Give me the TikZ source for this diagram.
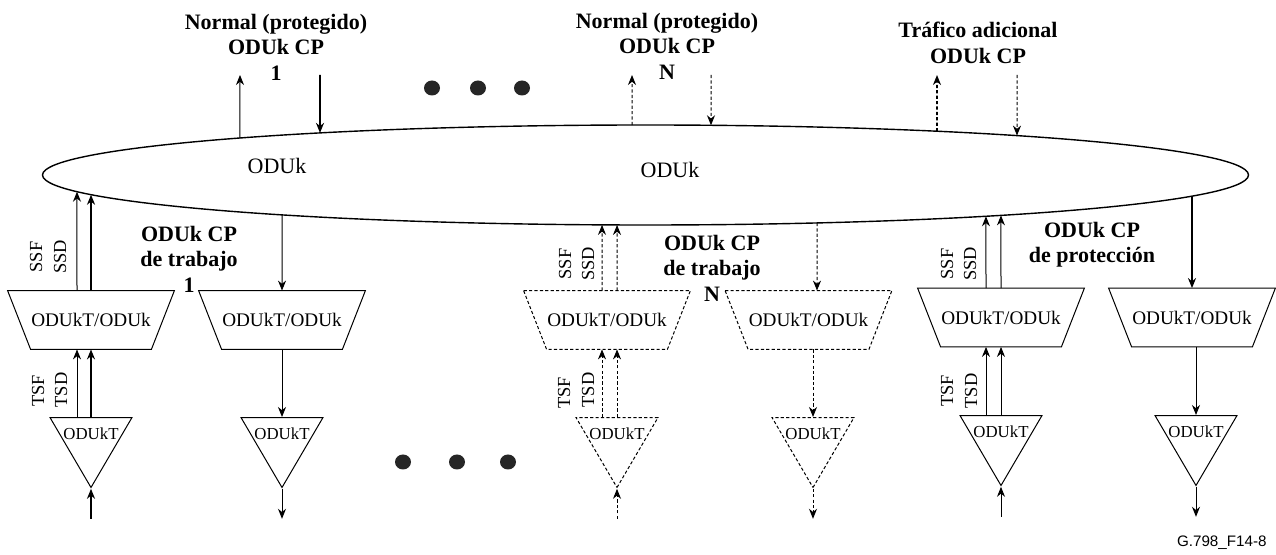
\documentclass[tikz,border=0pt]{standalone}
\usepackage{fontspec}
\setmainfont{Liberation Serif}
\setsansfont{Liberation Sans}
\usetikzlibrary{shapes.geometric,arrows.meta,intersections}

% vertical probe from #1 by #3; first hit on the ring is named #2
\newcommand\ringhit[3]{%
  \path[name path=probe] (#1) -- ++(0,#3);
  \path[name intersections={of=ringp and probe,sort by=probe,by={#2}}];
}

\begin{document}
\begin{tikzpicture}[x=0.5pt,y=-0.5pt,
  every node/.style={inner sep=0pt,font=\fontsize{11}{12.75}\selectfont},
  head/.style={font=\fontsize{11}{12.75}\selectfont\bfseries,align=center},
  sig/.style={-{Stealth[length=5pt,width=4pt,inset=1.6pt]},line width=0.5pt},
  sigb/.style={sig,line width=0.85pt},
  spare/.style={dash pattern=on 1.6pt off 1.1pt},
  adapt/.style={rectangle,minimum width=83pt,minimum height=29pt,
    font=\fontsize{9.6}{11}\selectfont},
  term/.style={draw,line width=0.5pt,isosceles triangle,shape border rotate=-90,
    isosceles triangle stretches=true,minimum width=41pt,minimum height=35pt,
    anchor=north},
  ttl/.style={font=\fontsize{8.4}{9}\selectfont,anchor=north,yshift=-5pt},
  flag/.style={rotate=90,font=\fontsize{9.2}{10}\selectfont}]
  \useasboundingbox (0,0) rectangle (1276,555);

  % ODUk connection function
  \node[draw,ellipse,line width=0.7pt,minimum width=603pt,minimum height=50pt]
    (ring) at (645.5,175) {};
  \path[name path=ringp] (ring.center) ellipse [x radius=603,y radius=50];
  \node (oduka) at (277,166) {ODUk};
  \node (odukb) at (670,170) {ODUk};

  % normal (protected) CPs and extra traffic CP
  \node[head] (cp1) at (276,47) {Normal (protegido)\\ODUk CP\\1};
  \node[head] (cpN) at (667,46) {Normal (protegido)\\ODUk CP\\N};
  \node[head] (cpx) at (978,43) {Tráfico adicional\\ODUk CP};
  \coordinate (n1o) at (240,75);
  \coordinate (n1i) at (320,75);
  \coordinate (nNo) at (632,75);
  \coordinate (nNi) at (711,75);
  \coordinate (nxo) at (937,75);
  \coordinate (nxi) at (1017,75);
  \ringhit{n1o}{h1o}{150}
  \ringhit{n1i}{h1i}{150}
  \ringhit{nNo}{hNo}{150}
  \ringhit{nNi}{hNi}{150}
  \ringhit{nxo}{hxo}{150}
  \ringhit{nxi}{hxi}{150}
  \draw[sig] (h1o) -- (n1o);
  \draw[sigb] (n1i) -- (h1i);
  \draw[sig,spare] (hNo) -- (nNo);
  \draw[sig,spare] (nNi) -- (hNi);
  \draw[sigb,spare] (hxo) -- (nxo);
  \draw[sig,spare] (nxi) -- (hxi);

  \foreach \x in {432,478,522}
    \fill[black!85] (\x,88) ellipse [x radius=8,y radius=7.5];
  \foreach \x in {403,457,508}
    \fill[black!85] (\x,462) ellipse [x radius=8,y radius=7.5];

  % working CP 1
  \node[head] (w1) at (189,259) {ODUk CP\\de trabajo\\1};
  \node[adapt] (a1) at (91,320) {ODUkT/ODUk};
  \node[term,label={[ttl,name=k1t]north:ODUkT}] (k1) at (91,417) {};
  \coordinate (s1b) at (a1.north -| k1.north);
  \coordinate (s1a) at ([xshift=-7pt]s1b);
  \ringhit{s1a}{r1a}{-200}
  \ringhit{s1b}{r1b}{-200}
  \draw[sig] (s1a) -- (r1a);
  \draw[sigb] (s1b) -- (r1b);
  \coordinate (t1a) at ([xshift=-7pt]k1.north);
  \draw[sig] (t1a) -- (t1a |- a1.south);
  \draw[sigb] (k1.north) -- (k1.north |- a1.south);
  \coordinate (i1) at ([yshift=-15pt]k1.apex);
  \draw[sigb] (i1) -- (k1.apex);
  \node[flag] (ssf1) at (36,257) {SSF};
  \node[flag] (ssd1) at (60,257) {SSD};
  \node[flag] (tsf1) at (38,391) {TSF};
  \node[flag] (tsd1) at (61,390) {TSD};

  \node[adapt] (a2) at (282,320) {ODUkT/ODUk};
  \node[term,label={[ttl,name=k2t]north:ODUkT}] (k2) at (282,417) {};
  \ringhit{a2.north}{r2}{-200}
  \draw[sig] (r2) -- (a2.north);
  \draw[sig] (a2.south) -- (k2.north);
  \coordinate (o2) at ([yshift=-15pt]k2.apex);
  \draw[sig] (k2.apex) -- (o2);

  % working CP N
  \node[head] (wN) at (712,268) {ODUk CP\\de trabajo\\N};
  \node[adapt] (a3) at (607,320) {ODUkT/ODUk};
  \node[term,spare,label={[ttl,name=k3t]north:ODUkT}] (k3) at (617,417) {};
  \coordinate (s3b) at (a3.north -| k3.north);
  \coordinate (s3a) at ([xshift=-7.5pt]s3b);
  \ringhit{s3a}{r3a}{-200}
  \ringhit{s3b}{r3b}{-200}
  \draw[sig,spare] (s3a) -- (r3a);
  \draw[sig,spare] (s3b) -- (r3b);
  \coordinate (t3a) at ([xshift=-7.5pt]k3.north);
  \draw[sig,spare] (t3a) -- (t3a |- a3.south);
  \draw[sig,spare] (k3.north) -- (k3.north |- a3.south);
  \coordinate (i3) at ([yshift=-15pt]k3.apex);
  \draw[sig,spare] (i3) -- (k3.apex);
  \node[flag] (ssf3) at (565,264) {SSF};
  \node[flag] (ssd3) at (588,264) {SSD};
  \node[flag] (tsf3) at (564,393) {TSF};
  \node[flag] (tsd3) at (588,390) {TSD};

  \node[adapt] (a4) at (808.5,320) {ODUkT/ODUk};
  \node[term,spare,label={[ttl,name=k4t]north:ODUkT}] (k4) at (813,417) {};
  \coordinate (s4) at ([xshift=4.25pt]a4.north);
  \ringhit{s4}{r4}{-200}
  \draw[sig,spare] (r4) -- (s4);
  \draw[sig,spare] (k4.north |- a4.south) -- (k4.north);
  \coordinate (o4) at ([yshift=-15pt]k4.apex);
  \draw[sig,spare] (k4.apex) -- (o4);

  % protection CP
  \node[head] (pr) at (1092,244.5) {ODUk CP\\de protección};
  \node[adapt] (a5) at (1001,317.5) {ODUkT/ODUk};
  \node[term,label={[ttl,name=k5t]north:ODUkT}] (k5) at (1001,415) {};
  \coordinate (s5b) at (a5.north -| k5.north);
  \coordinate (s5a) at ([xshift=-7.5pt]s5b);
  \ringhit{s5a}{r5a}{-200}
  \ringhit{s5b}{r5b}{-200}
  \draw[sig] (s5a) -- (r5a);
  \draw[sig] (s5b) -- (r5b);
  \coordinate (t5a) at ([xshift=-7.5pt]k5.north);
  \draw[sig] (t5a) -- (t5a |- a5.south);
  \draw[sig] (k5.north) -- (k5.north |- a5.south);
  \coordinate (i5) at ([yshift=-15pt]k5.apex);
  \draw[sig] (i5) -- (k5.apex);
  \node[flag] (ssf5) at (947,264) {SSF};
  \node[flag] (ssd5) at (970,264) {SSD};
  \node[flag] (tsf5) at (947,391) {TSF};
  \node[flag] (tsd5) at (971,391) {TSD};

  \node[adapt] (a6) at (1192,317.5) {ODUkT/ODUk};
  \node[term,label={[ttl,name=k6t]north:ODUkT}] (k6) at (1196,415) {};
  \ringhit{a6.north}{r6}{-200}
  \draw[sigb] (r6) -- (a6.north);
  \draw[sig] (k6.north |- a6.south) -- (k6.north);
  \coordinate (o6) at ([yshift=-15pt]k6.apex);
  \draw[sig] (k6.apex) -- (o6);

  % adaptation outlines
  \foreach \n/\s in {a1/solid,a2/solid,a3/spare,a4/spare,a5/solid,a6/solid}
    \draw[line width=0.5pt,\s] (\n.north west) -- (\n.north east)
      -- ([xshift=-11.5pt]\n.south east) -- ([xshift=11.5pt]\n.south west)
      -- cycle;

  \node[font=\sffamily\fontsize{7.6}{9}\selectfont,anchor=east] (fig)
    at (1267,543) {G.798\_F14-8};
\end{tikzpicture}
\end{document}
